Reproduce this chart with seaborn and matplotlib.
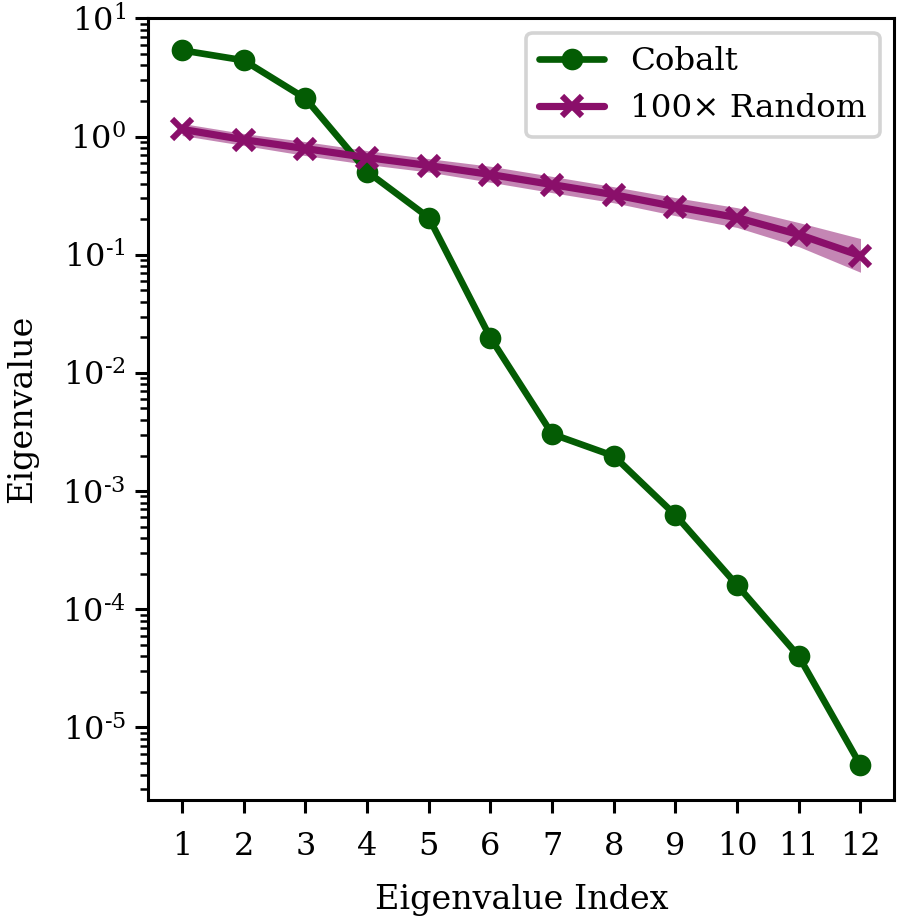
import numpy as np
import pandas as pd
import matplotlib
matplotlib.use("Agg")
import matplotlib.pyplot as plt
import matplotlib.ticker as mticker
import seaborn as sns

# ---------------------------------
# DATA
# ---------------------------------

index = [1, 2, 3, 4, 5, 6, 7, 8, 9, 10, 11, 12]

cobalt = [5.36, 4.41, 2.1, 0.505, 0.206, 0.0198, 0.00304, 0.00198,
          0.000626, 0.00016, 0.00004, 0.0000048]

random_mean = [1.15, 0.94, 0.79, 0.664, 0.568, 0.477, 0.392, 0.322,
               0.255, 0.206, 0.148, 0.098]
random_low = [1.02, 0.84, 0.69, 0.58, 0.50, 0.41, 0.335, 0.275,
              0.214, 0.17, 0.117, 0.071]
random_high = [1.29, 1.06, 0.905, 0.76, 0.65, 0.56, 0.46, 0.376,
               0.304, 0.25, 0.187, 0.137]

green = "#045c04"
purple = "#8a0f6a"

# ---------------------------------
# STYLE
# ---------------------------------

sns.set_style("ticks")
plt.rcParams["font.family"] = ["DejaVu Serif"]
plt.rcParams["mathtext.fontset"] = "dejavuserif"
plt.rcParams["axes.unicode_minus"] = False
plt.rcParams["font.size"] = 11.5
for key in ["text.color", "axes.labelcolor", "xtick.color", "ytick.color",
            "axes.edgecolor"]:
    plt.rcParams[key] = "black"

df_cobalt = pd.DataFrame({"Index": index, "Eigenvalue": cobalt})
df_random = pd.DataFrame({"Index": index, "Eigenvalue": random_mean})

# ---------------------------------
# PLOT
# ---------------------------------

fig, ax = plt.subplots(figsize=(4.49, 4.58), dpi=200)
fig.subplots_adjust(left=0.165, right=0.996, top=0.980, bottom=0.127)

sns.lineplot(data=df_cobalt, x="Index", y="Eigenvalue", ax=ax,
             color=green, linewidth=2.4, marker="o", markersize=7.8,
             markeredgewidth=0, label="Cobalt")

ax.fill_between(index, random_low, random_high, color=purple, alpha=0.5,
                linewidth=0)
sns.lineplot(data=df_random, x="Index", y="Eigenvalue", ax=ax,
             color=purple, linewidth=2.6, marker="x", markersize=7.5,
             markeredgewidth=2.2, markeredgecolor=purple,
             label="100\u00d7 Random")

ax.set_yscale("log")
ax.set_ylim(2.45e-6, 10)
ax.set_xticks(index)
ax.yaxis.set_major_formatter(mticker.FuncFormatter(
    lambda v, pos: r"10$^{\text{%d}}$" % round(np.log10(v))))
ax.yaxis.set_minor_formatter(mticker.NullFormatter())
ax.set_xlabel("Eigenvalue Index", fontsize=12, labelpad=8)
ax.set_ylabel("Eigenvalue", fontsize=12, labelpad=8.5)

for side in ["top", "right", "left", "bottom"]:
    ax.spines[side].set_visible(True)
    ax.spines[side].set_linewidth(1.1)

ax.tick_params(which="major", length=4.6, width=1.1, labelsize=11.5)
ax.tick_params(axis="x", which="major", pad=6.5)
ax.tick_params(which="minor", length=2.8, width=0.9)

leg = ax.legend(loc="upper right", fontsize=11.7, frameon=True, fancybox=True,
                edgecolor="0.83", framealpha=1.0, labelspacing=0.5,
                borderaxespad=0.45)
leg.get_frame().set_linewidth(1.3)

fig.savefig("out.png", dpi=200)
